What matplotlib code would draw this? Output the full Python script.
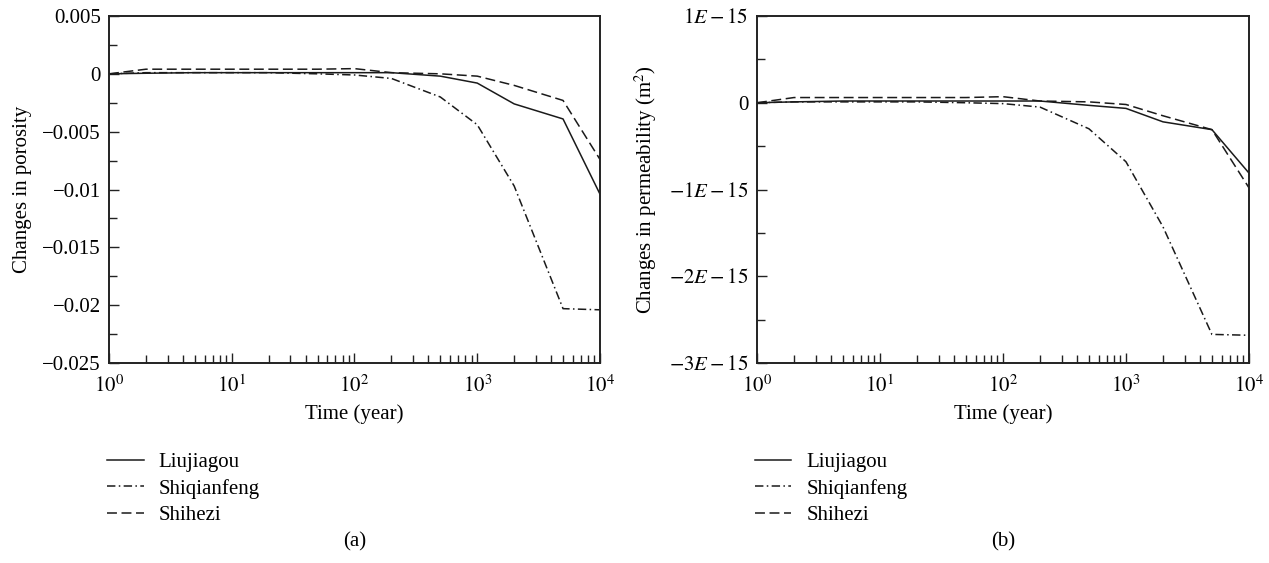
import matplotlib
matplotlib.use("Agg")
import matplotlib.pyplot as plt
from matplotlib.ticker import FixedLocator, MultipleLocator, LogLocator, NullFormatter

plt.rcParams['font.family'] = ['Liberation Serif', 'DejaVu Serif']
plt.rcParams['mathtext.fontset'] = 'stix'

# time steps (year)
years = [1, 2, 5, 10, 20, 50, 100, 200, 500, 1000, 2000, 5000, 10000]
names = ['Liujiagou', 'Shiqianfeng', 'Shihezi']

# (a) changes in porosity
por_liu = [0, 0.00005, 0.0001, 0.0001, 0.0001, 0.0001, 0.0001, 0.0001, -0.0002, -0.0008, -0.0026, -0.0039, -0.0104]
por_shq = [0, 0.0001, 0.0001, 0.0001, 0.0001, 0.0, -0.0001, -0.0004, -0.002, -0.0044, -0.0097, -0.0203, -0.0204]
por_shz = [0, 0.0004, 0.0004, 0.0004, 0.0004, 0.0004, 0.00045, 0.0001, 0.0, -0.0002, -0.001, -0.0023, -0.0074]

# (b) changes in permeability (units of 1E-15 m^2)
perm_liu = [0, 0.01, 0.02, 0.02, 0.02, 0.02, 0.02, 0.02, -0.03, -0.065, -0.22, -0.31, -0.81]
perm_shq = [0, 0.01, 0.01, 0.01, 0.01, 0.0, -0.01, -0.05, -0.3, -0.68, -1.43, -2.67, -2.68]
perm_shz = [0, 0.06, 0.06, 0.06, 0.06, 0.06, 0.07, 0.02, 0.01, -0.02, -0.15, -0.31, -0.98]

por_ticks = [0.005, 0, -0.005, -0.01, -0.015, -0.02, -0.025]
por_labels = ['0.005', '0', '\u22120.005', '\u22120.01', '\u22120.015', '\u22120.02', '\u22120.025']
perm_ticks = [1, 0, -1, -2, -3]
perm_labels = [r'$1E-15$', '0', r'$-1E-15$', r'$-2E-15$', r'$-3E-15$']

styles = [dict(ls='-'), dict(ls=(0, (5.5, 2.2, 1, 2.2))), dict(ls=(0, (6.5, 3)))]

fig = plt.figure(figsize=(12.69, 5.63), dpi=100)
ax1 = fig.add_axes([0.0859, 0.3552, 0.3869, 0.6164])
ax2 = fig.add_axes([0.5965, 0.3552, 0.3877, 0.6164])

FS = 15

def setup(ax, series, ticks, labels, ylim, minor, ylabel, cap):
    for s, st, nm in zip(series, styles, names):
        ax.plot(years, s, color='#1a1a1a', lw=1.1, label=nm, **st)
    ax.set_xscale('log')
    ax.set_xlim(1, 10000)
    ax.set_ylim(*ylim)
    ax.xaxis.set_major_locator(FixedLocator([1, 10, 100, 1000, 10000]))
    ax.xaxis.set_major_formatter(matplotlib.ticker.FixedFormatter(
        [r'$10^0$', r'$10^1$', r'$10^2$', r'$10^3$', r'$10^4$']))
    ax.xaxis.set_minor_locator(LogLocator(base=10, subs=range(2, 10), numticks=20))
    ax.xaxis.set_minor_formatter(NullFormatter())
    ax.set_yticks(ticks)
    ax.set_yticklabels(labels)
    ax.yaxis.set_minor_locator(MultipleLocator(minor))
    ax.tick_params(axis='both', which='both', direction='in', labelsize=FS,
                   top=False, right=False, width=1.0, color='#222222')
    ax.tick_params(which='major', length=7)
    ax.tick_params(which='minor', length=6)
    ax.tick_params(axis='x', pad=9)
    ax.tick_params(axis='y', pad=6)
    for sp in ax.spines.values():
        sp.set_linewidth(1.4)
        sp.set_color('#222222')
    ax.set_xlabel('Time (year)', fontsize=FS, labelpad=5)
    ax.set_ylabel(ylabel, fontsize=FS, labelpad=7)
    ax.legend(loc='upper left', bbox_to_anchor=(-0.004, -0.258), frameon=False,
              fontsize=FS, handlelength=1.75, handletextpad=0.72,
              labelspacing=0.32, borderaxespad=0, borderpad=0)
    ax.text(0.5, -0.515, cap, transform=ax.transAxes, ha='center', va='center', fontsize=FS)

setup(ax1, [por_liu, por_shq, por_shz], por_ticks, por_labels, (-0.025, 0.005), 0.0025,
      'Changes in porosity', '(a)')
setup(ax2, [perm_liu, perm_shq, perm_shz], perm_ticks, perm_labels, (-3, 1), 0.5,
      r'Changes in permeability (m$^2$)', '(b)')

fig.savefig('out.png', dpi=100)
